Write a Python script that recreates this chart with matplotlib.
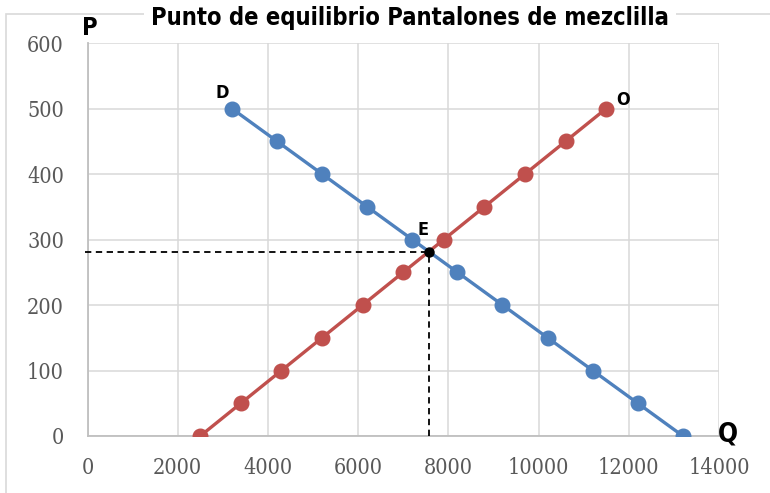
import matplotlib
matplotlib.use("Agg")
import matplotlib.pyplot as plt
from matplotlib.patches import Rectangle

# Data
price = [0, 50, 100, 150, 200, 250, 300, 350, 400, 450, 500]
demand_q = [13200, 12200, 11200, 10200, 9200, 8200, 7200, 6200, 5200, 4200, 3200]
supply_q = [2500, 3400, 4300, 5200, 6100, 7000, 7900, 8800, 9700, 10600, 11500]
eq_q = 7570
eq_p = 281.6
x_ticks = [0, 2000, 4000, 6000, 8000, 10000, 12000, 14000]
y_ticks = [0, 100, 200, 300, 400, 500, 600]
title = "Punto de equilibrio Pantalones de mezclilla"

blue = "#4f81bd"
red = "#c0504d"

fig = plt.figure(figsize=(7.70, 4.93), dpi=100)
L, R, T, B = 87.5, 719, 43, 436
ax = fig.add_axes([L/770, 1-B/493, (R-L)/770, (B-T)/493])

# figure border
fig.patches.append(Rectangle((6.5/770, -0.2), 1.2, 1 - 14/493 + 0.2, transform=fig.transFigure,
                             fill=False, edgecolor="#d9d9d9", linewidth=1.2, zorder=0))

ax.set_xlim(0, 14000)
ax.set_ylim(0, 600)
ax.set_xticks(x_ticks)
ax.set_yticks(y_ticks)
ax.grid(True, color="#d9d9d9", linewidth=1.1)
ax.set_axisbelow(True)
for s in ["top", "right"]:
    ax.spines[s].set_visible(False)
for s in ["left", "bottom"]:
    ax.spines[s].set_color("#bfbfbf")
    ax.spines[s].set_linewidth(1.3)
ax.tick_params(length=0, labelsize=15.5, labelcolor="#595959")
ax.tick_params(axis="y", pad=17)
ax.tick_params(axis="x", pad=15)
for lab in ax.get_xticklabels() + ax.get_yticklabels():
    lab.set_family("DejaVu Serif")
    lab.set_stretch("condensed")

ax.plot(demand_q, price, color=blue, linewidth=2.4, marker="o", markersize=10.5, zorder=3)
ax.plot(supply_q, price, color=red, linewidth=2.4, marker="o", markersize=10.5, zorder=3)

# equilibrium dashed lines
ax.plot([-55, eq_q], [eq_p, eq_p], color="black", linestyle=(0, (3.5, 2.5)), linewidth=1.3,
        clip_on=False, zorder=4)
ax.plot([eq_q, eq_q], [0, eq_p], color="black", linestyle=(0, (3.5, 2.5)), linewidth=1.3, zorder=4)
ax.plot([eq_q], [eq_p], marker="o", color="black", markersize=6.5, zorder=5)

lab_kw = dict(fontweight="bold", color="black", family="DejaVu Sans", fontstretch="condensed",
              clip_on=False)
ax.text(2993, 524, "D", fontsize=13, ha="center", va="center", **lab_kw)
ax.text(11871, 513, "O", fontsize=13, ha="center", va="center", **lab_kw)
ax.text(7438, 315, "E", fontsize=13, ha="center", va="center", **lab_kw)
ax.text(55, 623, "P", fontsize=17, ha="center", va="center", **lab_kw)
ax.text(14200, 3, "Q", fontsize=19, ha="center", va="center", **lab_kw)

fig.text(410/770, 1-18/493, title, ha="center", va="center", fontsize=17, fontweight="bold",
         family="DejaVu Sans", fontstretch="condensed",
         bbox=dict(facecolor="white", edgecolor="none", pad=5))

fig.savefig("out.png", dpi=100)
